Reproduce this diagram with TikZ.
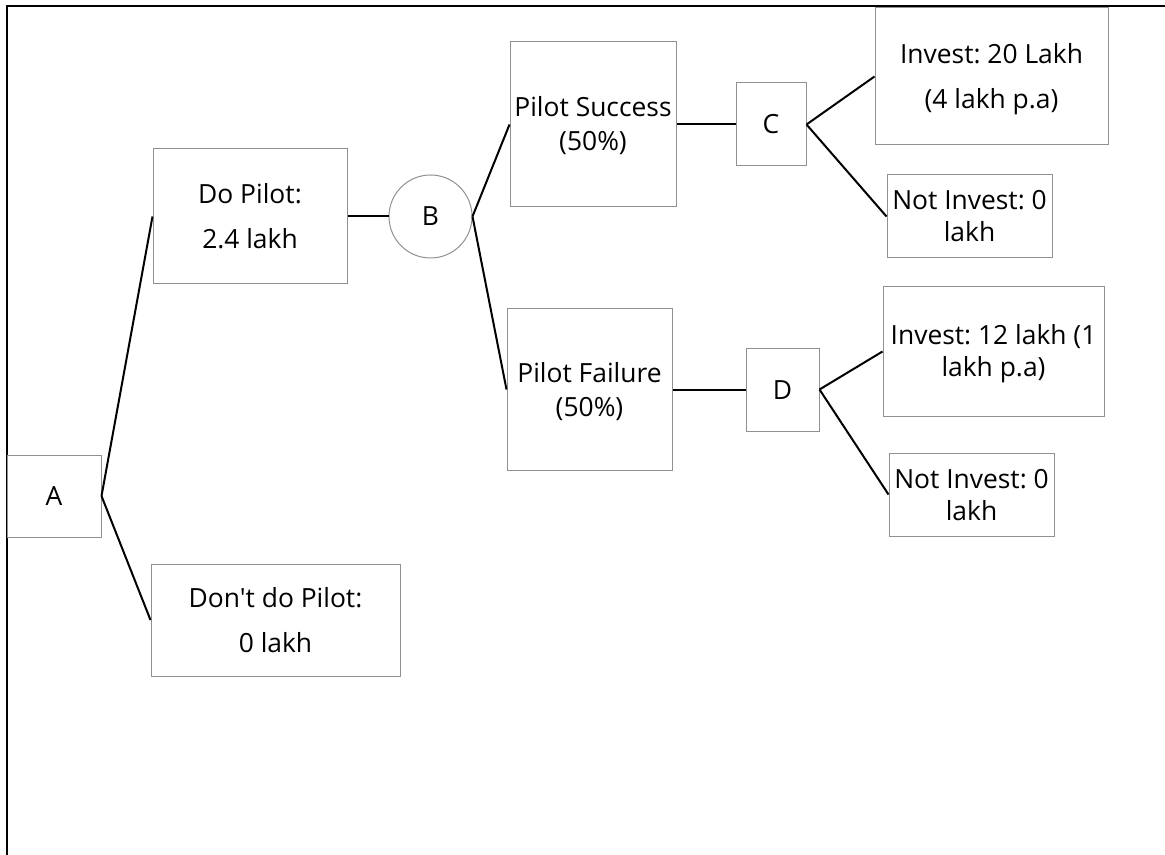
\documentclass[tikz,border=0pt]{standalone}
\usepackage{fontspec}
\setmainfont{Open Sans}[Ligatures=TeXOff]
\frenchspacing
\definecolor{boxgray}{HTML}{909090}
% strut with depth = height - cap height, so two-line blocks centre visually
\newcommand\lstrut{\rule[-3pt]{0pt}{15.5pt}}
\begin{document}
\begin{tikzpicture}[x=0.5pt,y=-0.5pt,
  box/.style={draw=boxgray, line width=0.5pt, rectangle, inner sep=0pt,
    align=center, text=black, font=\fontsize{13.2}{16}\selectfont},
  sz/.style 2 args={minimum width=#1*0.5pt, minimum height=#2*0.5pt},
  loose/.style={font=\fontsize{13.2}{22.5}\selectfont},
  mid/.style={font=\fontsize{13.2}{17}\selectfont},
  chance/.style={draw=boxgray, line width=0.5pt, circle, inner sep=0pt,
    minimum size=83*0.5pt, font=\fontsize{13.2}{16}\selectfont},
  link/.style={line width=1pt, black},
  frameline/.style={line width=1.2pt, black},
]
\useasboundingbox (0,0) rectangle (1165,855);

% outer frame (top and left edges)
\draw[frameline] (7,855) -- (7,6) -- (1165,6);

% decision and outcome boxes
\node[box, sz={94}{82}] (A) at (54,496) {\lstrut A};
\node[box, loose, sz={194}{135}] (dopilot) at (250,216.5) {\lstrut Do Pilot:\\\lstrut 2.4 lakh};
\node[box, loose, sz={249}{112}] (dont) at (275.5,620) {\lstrut Don't do Pilot:\\\lstrut 0 lakh};
\node[chance] (B) at (430.5,216.5) {\lstrut B};
\node[box, mid, sz={166}{165}] (succ) at (593,124.5) {\lstrut Pilot Success\\\lstrut (50\%)};
\node[box, mid, sz={165}{161}] (fail) at (589.5,389.5) {\lstrut Pilot Failure\\\lstrut (50\%)};
\node[box, sz={70}{83}] (C) at (771,124.5) {\lstrut C};
\node[box, sz={73}{83}] (D) at (782.5,389.5) {\lstrut D};
\node[box, loose, sz={233}{137}] (inv20) at (991.5,76.5) {\lstrut Invest: 20 Lakh\\\lstrut (4 lakh p.a)};
\node[box, sz={165}{83}] (notinvC) at (969.5,216.5) {\lstrut Not Invest: 0\\\lstrut lakh};
\node[box, sz={221}{129}] (inv12) at (993.5,351.5) {\lstrut Invest: 12 lakh (1\\\lstrut lakh p.a)};
\node[box, sz={165}{83}] (notinvD) at (971.5,494.5) {\lstrut Not Invest: 0\\\lstrut lakh};

% branches
\draw[link] (A.east) -- (dopilot.west);
\draw[link] (A.east) -- (dont.west);
\draw[link] (dopilot.east) -- (B.west);
\draw[link] (B.east) -- (succ.west);
\draw[link] (B.east) -- (fail.west);
\draw[link] (succ.east) -- (C.west);
\draw[link] (fail.east) -- (D.west);
\draw[link] (C.east) -- (inv20.west);
\draw[link] (C.east) -- (notinvC.west);
\draw[link] (D.east) -- (inv12.west);
\draw[link] (D.east) -- (notinvD.west);
\end{tikzpicture}
\end{document}
